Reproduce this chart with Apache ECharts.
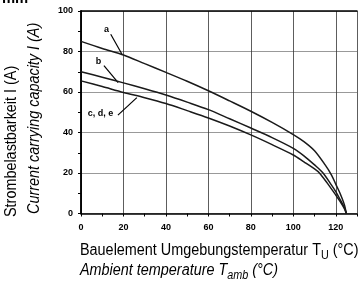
<!DOCTYPE html>
<html>
<head>
<meta charset="utf-8">
<script src="https://cdn.jsdelivr.net/npm/echarts@6/dist/echarts.min.js"></script>
<style>
  html, body { margin: 0; padding: 0; background: #fff; }
  #chart { width: 359px; height: 290px; }
</style>
</head>
<body>
<div id="chart"></div>
<script>
// curve a
const tempA = [0, 10, 20, 30, 40, 50, 60, 70, 80, 90, 100, 105, 110, 115, 118, 120, 122, 124, 125];
const currA = [85, 81.5, 78.3, 74, 69.7, 65.3, 60.6, 55.6, 50.5, 45, 39, 35.5, 31, 24, 19, 14.5, 10, 4.5, 0];
// curve b
const tempB = [0, 10, 20, 30, 40, 50, 60, 70, 80, 90, 100, 105, 110, 114, 118, 120, 122, 124, 125];
const currB = [70, 67.3, 64.5, 61.6, 58.5, 55, 51.3, 46.8, 42.2, 37.5, 32.2, 28.5, 24, 20, 14, 10.8, 7, 3, 0];
// curves c, d, e (drawn as one)
const tempC = [0, 10, 20, 30, 40, 50, 60, 70, 80, 90, 100, 105, 110, 112.3, 116, 120, 122, 124, 125];
const currC = [65.5, 62.7, 59.8, 57.2, 54.3, 50.8, 47.2, 43.2, 38.8, 34, 28.9, 25.5, 22, 20, 15, 9.1, 6, 2.5, 0];

const narrow = "'Liberation Sans', Arial, sans-serif";
const tickFont = "'Liberation Sans', Arial, sans-serif";
const squeeze = 0.9; // no condensed font installed, so titles are squeezed

function pairs(xs, ys) {
  return xs.map((x, i) => [x, ys[i]]);
}

const chart = echarts.init(document.getElementById("chart"));

function curve(name, xs, ys) {
  return {
    name: name,
    type: "line",
    data: pairs(xs, ys),
    smooth: 0.3,
    symbol: "none",
    animation: false,
    lineStyle: { color: "#1a1a1a", width: 1.5 }
  };
}

chart.setOption({
  animation: false,
  grid: { left: 81, right: 2, top: 11, bottom: 76.5 },
  xAxis: [
    {
      type: "value",
      min: 0,
      max: 130,
      interval: 20,
      axisLine: { show: true, lineStyle: { color: "#000", width: 1.5 } },
      axisTick: { show: false },
      axisLabel: {
        showMaxLabel: false,
        margin: 10,
        color: "#000",
        fontSize: 9,
        fontWeight: "bold",
        fontFamily: tickFont
      },
      splitLine: { show: true, lineStyle: { color: "#333", width: 0.8 } }
    },
    {
      // small ticks every 10
      type: "value",
      position: "bottom",
      min: 0,
      max: 130,
      interval: 10,
      axisLine: { show: false },
      axisTick: { show: true, length: 3, lineStyle: { color: "#000", width: 1 } },
      axisLabel: { show: false },
      splitLine: { show: false }
    },
    {
      type: "value",
      position: "top",
      min: 0,
      max: 130,
      axisLine: { show: true, lineStyle: { color: "#000", width: 1.5 } },
      axisTick: { show: false },
      axisLabel: { show: false },
      splitLine: { show: false }
    }
  ],
  yAxis: [
    {
      type: "value",
      min: 0,
      max: 100,
      interval: 20,
      axisLine: { show: true, lineStyle: { color: "#000", width: 1.5 } },
      axisTick: { show: true, length: 3, lineStyle: { color: "#000" } },
      minorTick: { show: true, splitNumber: 2, length: 3, lineStyle: { color: "#000" } },
      axisLabel: {
        margin: 8,
        color: "#000",
        fontSize: 9,
        fontWeight: "bold",
        fontFamily: tickFont
      },
      splitLine: { show: true, lineStyle: { color: "#999", width: 1 } }
    },
    {
      type: "value",
      position: "right",
      min: 0,
      max: 100,
      axisLine: { show: true, lineStyle: { color: "#000", width: 1.5 } },
      axisTick: { show: false },
      axisLabel: { show: false },
      splitLine: { show: false }
    }
  ],
  series: [
    curve("a", tempA, currA),
    curve("b", tempB, currB),
    curve("c, d, e", tempC, currC)
  ]
});

// annotations in data coordinates: label position, leader start, leader end
const notes = [
  { text: "a", at: [12, 91], from: [14, 88.5], to: [19.5, 78.3] },
  { text: "b", at: [8.3, 75.3], from: [10.8, 73], to: [17.5, 64.6] },
  { text: "c, d, e", at: [9.2, 49.6], from: [17.4, 48.6], to: [26.3, 57.2] }
];

const px = p => chart.convertToPixel({ xAxisIndex: 0, yAxisIndex: 0 }, p);

const graphics = [];
notes.forEach(n => {
  const a = px(n.at), f = px(n.from), t = px(n.to);
  graphics.push({
    type: "text",
    x: a[0],
    y: a[1],
    style: {
      text: n.text,
      fill: "#000",
      font: "bold 9px " + tickFont,
      textAlign: "center",
      textVerticalAlign: "middle"
    }
  });
  graphics.push({
    type: "line",
    shape: { x1: f[0], y1: f[1], x2: t[0], y2: t[1] },
    style: { stroke: "#000", lineWidth: 1.2 }
  });
});

// axis titles
graphics.push(
  {
    type: "text",
    x: 12,
    y: 217,
    rotation: Math.PI / 2,
    scaleX: squeeze,
    style: {
      text: "Strombelastbarkeit I (A)",
      fill: "#000",
      font: "16px " + narrow,
      textAlign: "left",
      textVerticalAlign: "middle"
    }
  },
  {
    type: "text",
    x: 35,
    y: 214,
    rotation: Math.PI / 2,
    scaleX: squeeze,
    style: {
      text: "Current carrying capacity I (A)",
      fill: "#000",
      font: "italic 16px " + narrow,
      textAlign: "left",
      textVerticalAlign: "middle"
    }
  },
  {
    type: "text",
    x: 80,
    y: 251,
    scaleX: squeeze,
    style: {
      text: "Bauelement Umgebungstemperatur T{sub|U} (°C)",
      fill: "#000",
      font: "16px " + narrow,
      textAlign: "left",
      textVerticalAlign: "middle",
      rich: {
        sub: { fontSize: 12, fontFamily: narrow, padding: [9, 0, 0, 0] }
      }
    }
  },
  {
    type: "text",
    x: 80,
    y: 271,
    scaleX: squeeze,
    style: {
      text: "Ambient temperature T{sub|amb} (°C)",
      fill: "#000",
      font: "italic 16px " + narrow,
      textAlign: "left",
      textVerticalAlign: "middle",
      rich: {
        sub: { fontSize: 12, fontStyle: "italic", fontFamily: narrow, padding: [9, 0, 0, 0] }
      }
    }
  },
  {
    // clipped bottom of text from above the figure
    type: "text",
    x: 2,
    y: 7,
    scaleX: 0.82,
    style: {
      text: "mm",
      fill: "#000",
      font: "bold 18px " + narrow,
      textAlign: "left",
      textVerticalAlign: "bottom"
    }
  }
);

chart.setOption({ graphic: graphics });
</script>
</body>
</html>
